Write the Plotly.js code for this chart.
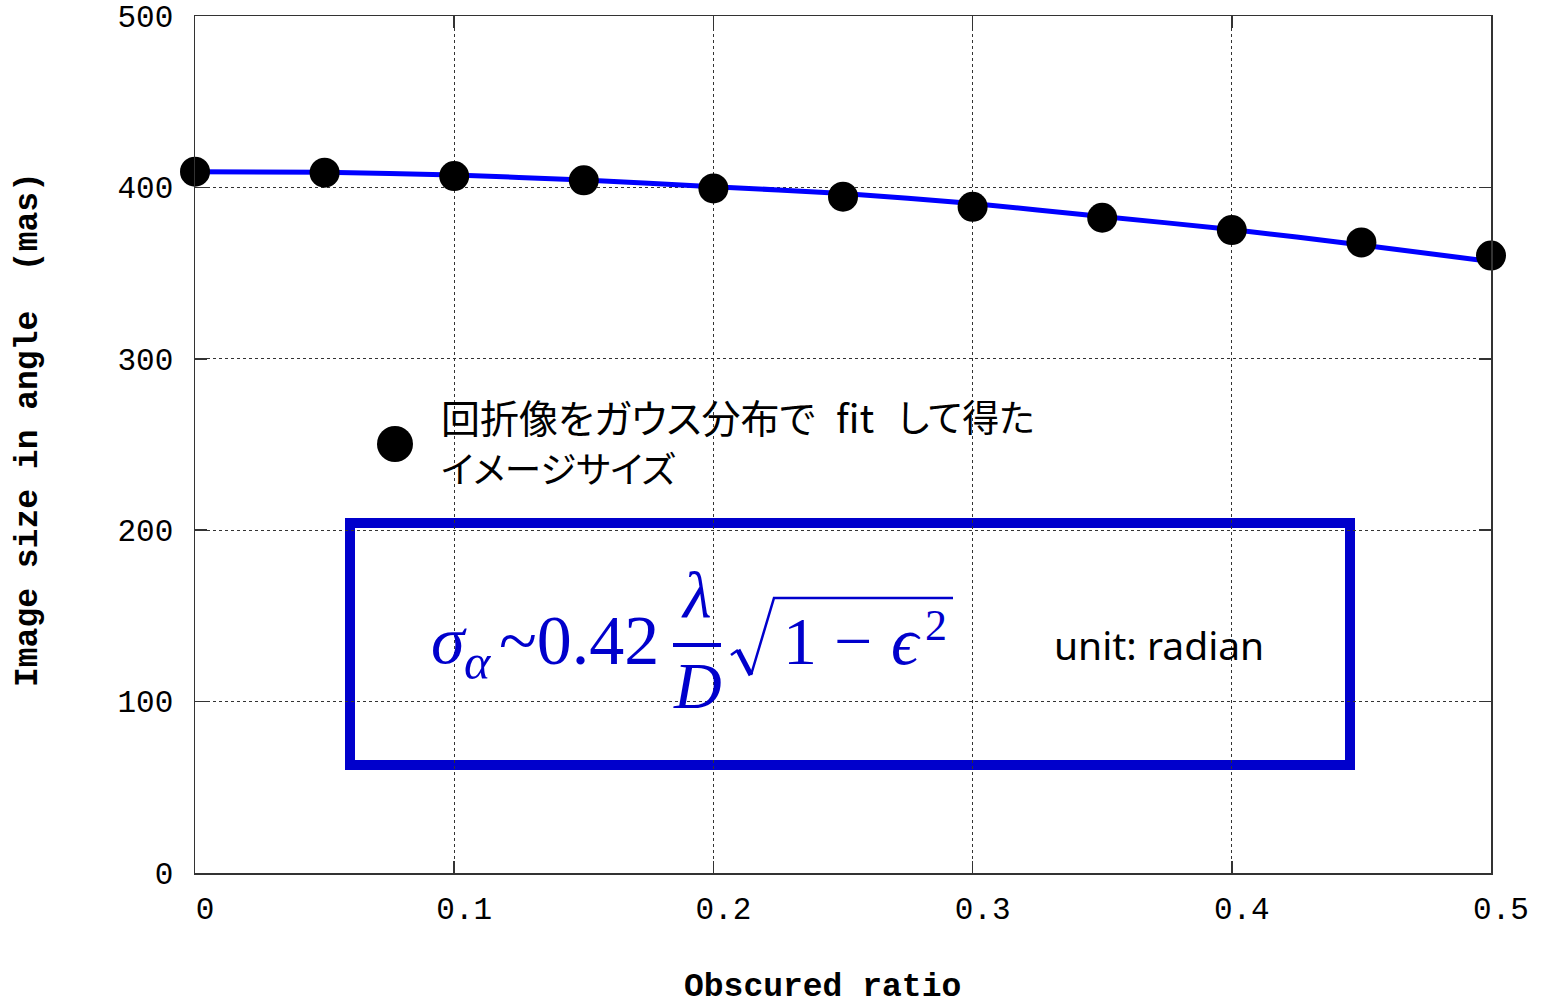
<!DOCTYPE html>
<html>
<head>
<meta charset="utf-8">
<script src="https://cdn.plot.ly/plotly-3.0.1.min.js"></script>
<style>
  html, body { margin: 0; padding: 0; background: #fff; }
  #chart { width: 1541px; height: 1006px; }
  .annotation-text { font-feature-settings: "palt"; }
</style>
</head>
<body>
<div id="chart"></div>
<script>
// Measured image size (Gaussian fit of the diffraction image) vs. obscured ratio
const obscuredRatio = [0, 0.05, 0.10, 0.15, 0.20, 0.25, 0.30, 0.35, 0.40, 0.45, 0.50];
const fittedSize    = [409.2, 408.6, 406.6, 404.1, 399.4, 394.6, 388.7, 382.3, 375.1, 367.9, 360.2];

// Analytic curve sigma ~ 0.42 (lambda/D) sqrt(1 - eps^2), in mas
const curveRatio = [0, 0.05, 0.10, 0.15, 0.20, 0.25, 0.30, 0.35, 0.40, 0.45, 0.50];
const curveSize  = [409.2, 408.8, 407.2, 404.3, 400.4, 396.5, 390.6, 383.0, 375.5, 366.4, 356.8];

const xTickVals = [0, 0.1, 0.2, 0.3, 0.4, 0.5];
const xTickText = ['0', '0.1', '0.2', '0.3', '0.4', '0.5'];
const yTickVals = [0, 100, 200, 300, 400, 500];
const yTickText = ['0', '100', '200', '300', '400', '500'];

const xTitle = 'Obscured ratio';
const yTitle = 'Image size in angle  (mas)';
const legendHead = '回折像をガウス分布で';
const legendFit = 'fit';
const legendTail = 'して得た';
const legendLine2 = 'イメージサイズ';
const unitText = 'unit: radian';

// Plot-area geometry in page pixels
const W = 1541, H = 1006;
const L = 195, R = 1491, T = 16, B = 873;
const px = x => (x - L) / (R - L);
const py = y => (B - y) / (B - T);

const EQ = '#0000CC';
const SERIF = 'Liberation Serif, DejaVu Serif, serif';
const MONO = 'Liberation Mono, DejaVu Sans Mono, monospace';
const JP = 'Noto Sans CJK JP';

function label(text, x, y, opts) {
  return Object.assign({
    text: text, xref: 'paper', yref: 'paper', x: px(x), y: py(y),
    showarrow: false, xanchor: 'left', yanchor: 'middle', borderpad: 0
  }, opts);
}
function eq(text, x, y, size, italic, anchor) {
  return label(text, x, y, {
    xanchor: anchor || 'left',
    font: { family: SERIF, size: size, color: EQ, style: italic ? 'italic' : 'normal' }
  });
}
function pathFrom(points) {
  return points.map((p, i) => (i ? 'L ' : 'M ') + px(p[0]) + ' ' + py(p[1])).join(' ');
}

const traces = [
  {
    x: curveRatio, y: curveSize, type: 'scatter', mode: 'lines',
    line: { color: '#0000FF', width: 5, shape: 'spline', smoothing: 0.6 },
    hoverinfo: 'skip', showlegend: false, cliponaxis: false
  },
  {
    x: obscuredRatio, y: fittedSize, type: 'scatter', mode: 'markers',
    marker: { color: '#000', size: 30, line: { width: 0 } },
    showlegend: false, cliponaxis: false
  }
];

const shapes = [
  // blank areas behind the key text and the upper right corner
  { type: 'rect', xref: 'paper', yref: 'paper', layer: 'between',
    x0: px(360), x1: px(1045), y0: py(505), y1: py(384),
    fillcolor: '#fff', line: { width: 0 } },
  { type: 'rect', xref: 'paper', yref: 'paper', layer: 'between',
    x0: px(770), x1: px(1489), y0: py(126), y1: py(30),
    fillcolor: '#fff', line: { width: 0 } },
  // formula box
  { type: 'rect', xref: 'paper', yref: 'paper', layer: 'between',
    x0: px(350), x1: px(1350), y0: py(765), y1: py(523),
    fillcolor: '#fff', line: { color: EQ, width: 10 } },
  // key symbol
  { type: 'circle', xref: 'paper', yref: 'paper',
    x0: px(377), x1: px(413), y0: py(462), y1: py(426),
    fillcolor: '#000', line: { width: 0 } },
  // fraction bar
  { type: 'line', xref: 'paper', yref: 'paper',
    x0: px(673), x1: px(721), y0: py(645), y1: py(645),
    line: { color: EQ, width: 4 } },
  // radical sign
  { type: 'path', xref: 'paper', yref: 'paper',
    path: pathFrom([[731, 655], [738, 650]]), line: { color: EQ, width: 2.5 } },
  { type: 'path', xref: 'paper', yref: 'paper',
    path: pathFrom([[738, 650], [751, 675]]), line: { color: EQ, width: 5 } },
  { type: 'path', xref: 'paper', yref: 'paper',
    path: pathFrom([[751, 675], [774, 598], [953, 598]]), line: { color: EQ, width: 2.5 } }
];

const annotations = [
  // axis titles
  label(xTitle, 822, 987, { xanchor: 'center',
    font: { family: MONO, size: 33, color: '#000', weight: 'bold' } }),
  label(yTitle, 28, 430, { xanchor: 'center', textangle: -90,
    font: { family: MONO, size: 33, color: '#000', weight: 'bold' } }),
  // key text
  label(legendHead, 440, 416, { font: { family: JP, size: 39, color: '#000' } }),
  label(legendFit, 835, 416, { font: { family: JP, size: 39, color: '#000' } }),
  label(legendTail, 897, 416, { font: { family: JP, size: 37, color: '#000' } }),
  label(legendLine2, 440, 467, { font: { family: JP, size: 36.5, color: '#000' } }),
  // formula
  eq('σ', 430, 640, 68, true),
  eq('α', 463, 662, 50, true),
  eq('~0.42', 498, 640, 70, false),
  eq('λ', 696, 594, 66, true, 'center'),
  eq('D', 697, 685, 66, true, 'center'),
  eq('1 − ', 782, 641, 68, false),
  eq('ϵ', 890, 641, 68, true),
  eq('2', 924, 626, 44, false),
  label(unitText, 1053, 644, { font: { family: 'Noto Sans', size: 39, color: '#000' } })
];

const axisCommon = {
  showline: true, mirror: 'ticks', linecolor: '#333', linewidth: 1.5,
  ticks: 'inside', ticklen: 12, tickwidth: 1.5, tickcolor: '#333',
  showgrid: true, gridcolor: '#333', gridwidth: 1, griddash: '3px,3px',
  zeroline: false, fixedrange: true,
  tickfont: { family: MONO, size: 31, color: '#000' }
};

const layout = {
  width: W, height: H,
  margin: { l: L, r: W - R, t: T, b: H - B, pad: 0 },
  paper_bgcolor: '#fff', plot_bgcolor: '#fff',
  showlegend: false,
  xaxis: Object.assign({}, axisCommon, {
    range: [0, 0.5], tickmode: 'array', tickvals: xTickVals, ticktext: xTickText,
    ticklabelstandoff: 7, ticklabelshift: 10
  }),
  yaxis: Object.assign({}, axisCommon, {
    range: [0, 500], tickmode: 'array', tickvals: yTickVals, ticktext: yTickText,
    ticklabelstandoff: 14
  }),
  shapes: shapes,
  annotations: annotations
};

Plotly.newPlot('chart', traces, layout, { staticPlot: true, displayModeBar: false });
</script>
</body>
</html>
